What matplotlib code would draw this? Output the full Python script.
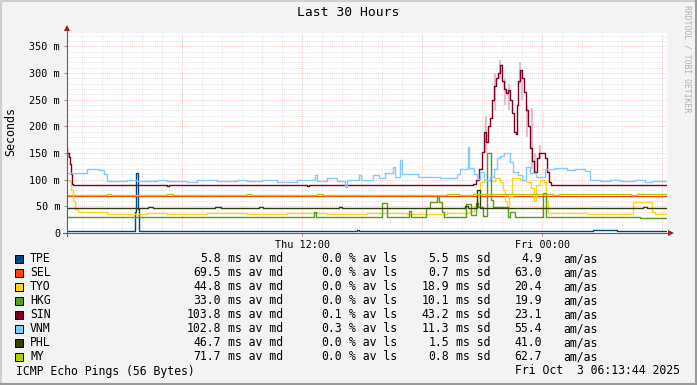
import matplotlib

matplotlib.use("Agg")
import matplotlib.pyplot as plt
from matplotlib.lines import Line2D
from matplotlib.patches import Polygon, Rectangle

W, H = 697, 385
BG = "#f3f3f3"
MONO = "DejaVu Sans Mono"

# window: Thu 00:13:44 -> Fri 06:13:44, x in hours since Thu 00:00
T0 = 13 / 60 + 44 / 3600
SPAN = 30.0

# ── series: (hours since window start, ms) ──────────────────────────────────
TPE = [(0.0, 4.5), (3.40, 40), (3.45, 113), (3.55, 45), (3.60, 4.5),
       (14.5, 6), (14.6, 4.5), (26.3, 6.5), (26.8, 5), (27.2, 6.5),
       (27.5, 4.5), (30.0, 4.5)]

SEL = [(0.0, 69.5), (30.0, 69.5)]

TYO = [(0.0, 100), (0.1, 97), (0.2, 80), (0.3, 60), (0.4, 45), (0.55, 39),
       (2, 36), (4, 37), (5, 35), (7, 37), (9, 36), (11, 38), (13, 36),
       (15, 37), (17, 35), (19, 38), (20.15, 42), (20.35, 50), (20.5, 70),
       (20.65, 96), (20.85, 100), (21.15, 98), (21.4, 103), (21.65, 95),
       (21.8, 80), (21.9, 60), (22.0, 49), (22.1, 70), (22.25, 103),
       (22.65, 100), (22.95, 96), (23.2, 85), (23.35, 60), (23.45, 90),
       (23.65, 100), (23.85, 95), (23.95, 60), (24.05, 38), (26, 36),
       (28.3, 58), (29.25, 40), (29.4, 35), (30.0, 35)]

HKG = [(0.0, 30.5), (12.35, 40), (12.45, 30.5), (15.75, 56), (16.0, 30.5),
       (17.1, 42), (17.2, 30.5), (17.95, 47), (18.15, 59), (18.5, 68),
       (18.6, 59), (18.75, 40), (18.85, 30.5), (19.95, 54), (20.2, 34),
       (20.45, 56), (20.55, 49), (20.8, 32), (21.0, 150), (21.2, 62),
       (21.3, 49), (22.05, 30.5), (22.15, 39), (22.4, 30.5), (23.8, 75),
       (23.95, 30.5), (28.65, 27.5), (30.0, 27.5)]

SIN = [(0.0, 150), (0.08, 143), (0.15, 130), (0.2, 110), (0.25, 92),
       (0.3, 90), (5.0, 88), (5.1, 90), (12.0, 88), (12.1, 90),
       (20.3, 92), (20.45, 100), (20.6, 120), (20.75, 152), (20.85, 190),
       (20.95, 170), (21.05, 200), (21.15, 215), (21.25, 250), (21.35, 275),
       (21.45, 290), (21.55, 300), (21.65, 315), (21.75, 285), (21.85, 270),
       (21.95, 262), (22.05, 268), (22.15, 250), (22.25, 225), (22.35, 190),
       (22.45, 185), (22.5, 240), (22.55, 285), (22.65, 305), (22.75, 290),
       (22.85, 265), (22.95, 230), (23.05, 200), (23.15, 160), (23.25, 135),
       (23.35, 115), (23.5, 140), (23.6, 150), (23.9, 140), (24.0, 115),
       (24.1, 95), (24.2, 90), (30.0, 90)]

# SIN smoke: (hours, low ms, high ms)
SIN_SMOKE = [(0.05, 140, 160), (20.95, 150, 220), (21.4, 230, 300),
             (21.65, 290, 325), (21.9, 240, 290), (22.1, 230, 280),
             (22.65, 280, 320), (22.75, 250, 305), (23.0, 180, 240),
             (23.25, 120, 235), (23.4, 110, 150), (23.65, 140, 165)]

VNM = [(0.0, 113), (0.55, 112), (1.0, 120), (1.6, 118), (1.85, 110),
       (2.0, 98), (3.0, 100), (3.5, 97), (4.5, 100), (5.0, 97), (6.0, 95),
       (6.5, 99), (7.5, 97), (8.5, 100), (9.0, 97), (9.75, 100), (10.5, 96),
       (11.5, 100), (12.4, 109), (12.5, 98), (13.0, 103), (13.5, 97),
       (13.9, 87), (14.0, 100), (14.6, 108), (14.7, 100), (15.3, 109),
       (15.6, 104), (15.9, 112), (16.3, 124), (16.4, 105), (16.65, 137),
       (16.75, 110), (17.55, 105), (18.65, 103), (19.5, 110), (19.65, 120),
       (20.05, 162), (20.1, 122), (20.35, 110), (20.5, 102), (20.65, 115),
       (20.85, 100), (21.15, 105), (21.35, 120), (21.5, 140), (21.65, 145),
       (21.85, 150), (22.15, 133), (22.3, 115), (22.55, 109), (22.75, 100),
       (22.95, 124), (23.15, 112), (23.45, 105), (23.9, 120), (24.4, 122),
       (25.0, 118), (25.4, 121), (25.9, 117), (26.15, 100), (26.65, 98),
       (27.15, 100), (27.65, 97), (28.4, 99), (28.9, 96), (29.25, 97),
       (30.0, 97)]

PHL = [(0.0, 46.7), (4.05, 49), (4.3, 46.7), (7.4, 49), (7.7, 46.7),
       (9.6, 49.5), (9.8, 46.7), (13.6, 49), (13.75, 46.7), (19.9, 50),
       (20.05, 46.7), (20.5, 80), (20.65, 46.7), (28.8, 49), (29.0, 46.7),
       (30.0, 46.7)]

MY = [(0.0, 71.7), (2.0, 73.5), (2.2, 71.7), (5.0, 73.5), (5.3, 71.7),
      (9.0, 73.5), (9.2, 71.7), (12.5, 73), (12.8, 71.7), (19.0, 73.5),
      (19.6, 72), (20.3, 73.5), (24.3, 71.7), (24.6, 73.5), (28.2, 71.7),
      (28.5, 72.5), (30.0, 72.5)]

# ── legend table ────────────────────────────────────────────────────────────
NAMES = ["TPE", "SEL", "TYO", "HKG", "SIN", "VNM", "PHL", "MY"]
SERIES = [TPE, SEL, TYO, HKG, SIN, VNM, PHL, MY]
COLORS = ["#004586", "#ff420e", "#ffd320", "#579d1c",
          "#7e0021", "#83caff", "#314004", "#aecf00"]
AVG_MD = [5.8, 69.5, 44.8, 33.0, 103.8, 102.8, 46.7, 71.7]
AVG_LS = [0.0, 0.0, 0.0, 0.0, 0.1, 0.3, 0.0, 0.0]
SD = [5.5, 0.7, 18.9, 10.1, 43.2, 11.3, 1.5, 0.8]
AM_AS = [4.9, 63.0, 20.4, 19.9, 23.1, 55.4, 41.0, 62.7]

Y_TICKS = [0, 50, 100, 150, 200, 250, 300, 350]
Y_TICK_LABELS = ["0"] + [f"{v} m" for v in Y_TICKS[1:]]
X_TICKS = [12, 24]
X_TICK_LABELS = ["Thu 12:00", "Fri 00:00"]


def px(x, y):
    """Pixel position (from top-left) -> figure fraction."""
    return x / W, 1 - y / H


fig = plt.figure(figsize=(W / 100, H / 100), dpi=100, facecolor=BG)
ax = fig.add_axes([67 / W, 1 - 233 / H, 600 / W, 200 / H])
ax.set_facecolor("white")
ax.set_xlim(T0, T0 + SPAN)
ax.set_ylim(0, 375.2)

# grid
minor_kw = dict(color="#dadada", lw=0.6, ls=(0, (1.0, 1.5)), zorder=0)
major_kw = dict(color="#f0b0b0", lw=0.6, ls=(0, (1.0, 1.5)), zorder=0)
for h in range(1, 31):
    ax.axvline(h, **(major_kw if h % 6 == 0 else minor_kw))
for v in range(10, 380, 10):
    ax.axhline(v, **(major_kw if v % 50 == 0 else minor_kw))

# smoke + lines
for t, lo, hi in SIN_SMOKE:
    ax.vlines(t + T0, lo, hi, color="#e7bfca", lw=1.6, zorder=1)
for name, data, col in zip(NAMES, SERIES, COLORS):
    ts = [t + T0 for t, _ in data]
    vs = [v for _, v in data]
    ax.plot(ts, vs, drawstyle="steps-post", color=col, lw=1.0, zorder=2)

# ticks
ax.set_yticks(Y_TICKS)
ax.set_yticklabels(Y_TICK_LABELS)
ax.set_xticks(X_TICKS)
ax.set_xticklabels(X_TICK_LABELS)
ax.tick_params(axis="both", length=2, width=0.6, color="#808080",
               labelsize=7.3, pad=3)
for lab in ax.get_xticklabels() + ax.get_yticklabels():
    lab.set_fontfamily(MONO)
for sp in ax.spines.values():
    sp.set_visible(False)

# axis lines with arrows
fig.add_artist(Line2D([px(67, 0)[0]] * 2, [px(0, 236)[1], px(0, 30)[1]],
                      color="#606060", lw=0.8))
fig.add_artist(Line2D([px(63, 0)[0], px(669, 0)[0]], [px(0, 233)[1]] * 2,
                      color="#606060", lw=0.8))
fig.add_artist(Polygon([px(67, 25), px(64, 31), px(70, 31)],
                       closed=True, color="#a01818", lw=0))
fig.add_artist(Polygon([px(674, 233), px(668, 230), px(668, 236)],
                       closed=True, color="#a01818", lw=0))

# titles
fig.text(*px(348.5, 13), "Last 30 Hours", family=MONO, fontsize=9.4,
         ha="center", va="center")
fig.text(*px(11, 131), "Seconds", family=MONO, fontsize=8.4,
         rotation=90, ha="center", va="center")
fig.text(*px(687, 5), "RRDTOOL / TOBI OETIKER", family=MONO, fontsize=5.9,
         rotation=-90, ha="center", va="top", color="#b0b0b0")

# legend rows
fs = 8.3
for i, name in enumerate(NAMES):
    y = 259 + 14 * i
    x0, y0 = px(15, y + 4)
    fig.add_artist(Rectangle((x0, y0), 8 / W, 8 / H, facecolor=COLORS[i],
                             edgecolor="black", lw=0.7))
    fig.text(*px(30, y), name, family=MONO, fontsize=fs, va="center")
    fig.text(*px(221, y), f"{AVG_MD[i]:.1f}", family=MONO, fontsize=fs,
             va="center", ha="right")
    fig.text(*px(228, y), "ms av md", family=MONO, fontsize=fs, va="center")
    fig.text(*px(342, y), f"{AVG_LS[i]:.1f}", family=MONO, fontsize=fs,
             va="center", ha="right")
    fig.text(*px(349, y), "% av ls", family=MONO, fontsize=fs, va="center")
    fig.text(*px(449, y), f"{SD[i]:.1f}", family=MONO, fontsize=fs,
             va="center", ha="right")
    fig.text(*px(456, y), "ms sd", family=MONO, fontsize=fs, va="center")
    fig.text(*px(542, y), f"{AM_AS[i]:.1f}", family=MONO, fontsize=fs,
             va="center", ha="right")
    fig.text(*px(563, y), "am/as", family=MONO, fontsize=fs, va="center")

fig.text(*px(16, 371), "ICMP Echo Pings (56 Bytes)", family=MONO,
         fontsize=fs, va="center")
fig.text(*px(680, 371), "Fri Oct  3 06:13:44 2025", family=MONO,
         fontsize=fs, va="center", ha="right")

# outer frame
fig.add_artist(Line2D([0, 1], [1 - 1 / H] * 2, color="#cfcfcf", lw=1.5))
fig.add_artist(Line2D([1 / W] * 2, [0, 1], color="#cfcfcf", lw=1.5))
fig.add_artist(Line2D([0, 1], [1 / H] * 2, color="#9a9a9a", lw=1.5))
fig.add_artist(Line2D([1 - 1 / W] * 2, [0, 1], color="#9a9a9a", lw=1.5))

fig.savefig("out.png", dpi=100, facecolor=BG)
